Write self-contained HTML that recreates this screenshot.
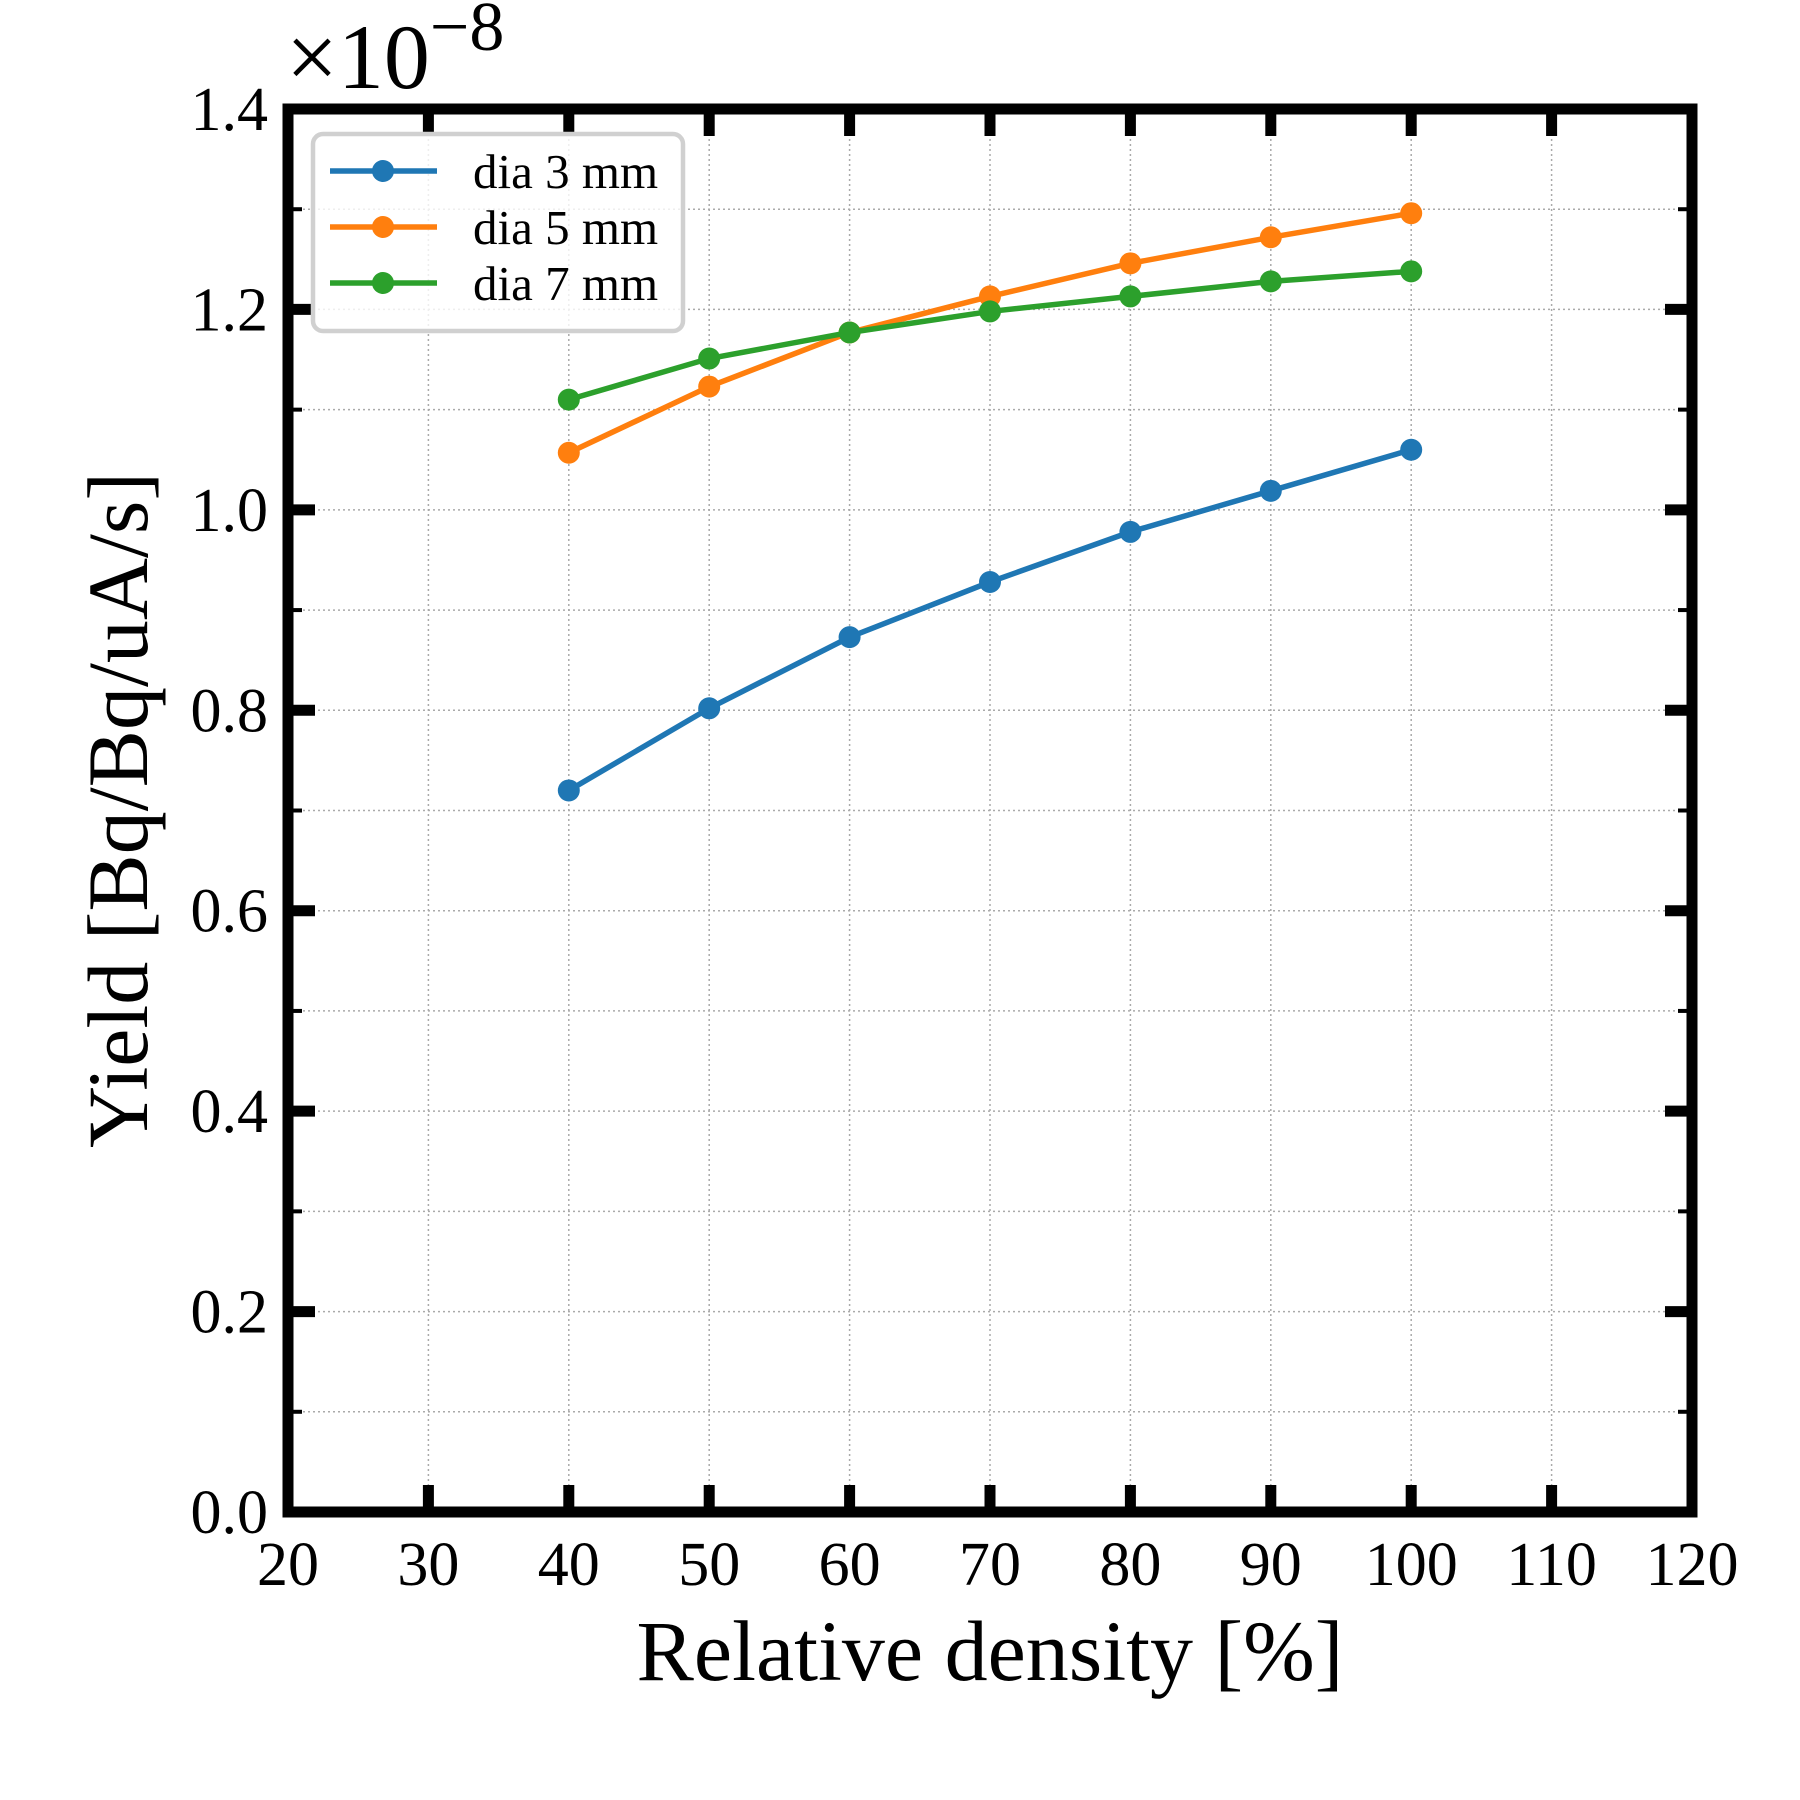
<!DOCTYPE html>
<html><head><meta charset="utf-8"><style>
html,body{margin:0;padding:0;background:#fff}
svg{display:block;font-family:"Liberation Serif",serif}
</style></head><body>
<svg id="chart" width="1800" height="1800" viewBox="0 0 1800 1800">
<g id="grid"></g>
<g id="series"></g>
<g id="axes"></g>
<g id="legend"></g>
<text x="990" y="1680" font-size="86" text-anchor="middle">Relative density [%]</text>
<text transform="translate(147,810) rotate(-90)" font-size="86" text-anchor="middle">Yield [Bq/Bq/uA/s]</text>
<text x="286" y="88" font-size="92">×10<tspan font-size="70" dy="-38">−8</tspan></text>
</svg>
<script>
const categories=[40,50,60,70,80,90,100];
const dia3=[0.720,0.802,0.873,0.928,0.978,1.019,1.060];
const dia5=[1.057,1.123,1.177,1.213,1.246,1.272,1.296];
const dia7=[1.110,1.151,1.177,1.198,1.213,1.228,1.238];
const seriesNames=["dia 3 mm","dia 5 mm","dia 7 mm"];
const xTicks=[20,30,40,50,60,70,80,90,100,110,120];
const yTicks=["0.0","0.2","0.4","0.6","0.8","1.0","1.2","1.4"];
const yMinor=[0.1,0.3,0.5,0.7,0.9,1.1,1.3];
const NS="http://www.w3.org/2000/svg";
const L=288,R=1692,B=1512,T=109;
const xs=v=>L+(v-20)/100*(R-L);
const ys=v=>B-v/1.4*(B-T);
function mk(tag,attrs,parent){const e=document.createElementNS(NS,tag);for(const k in attrs)e.setAttribute(k,attrs[k]);parent.appendChild(e);return e;}
const grid=document.getElementById('grid'),axes=document.getElementById('axes'),sg=document.getElementById('series'),lg=document.getElementById('legend');
xTicks.forEach(t=>{
  const x=xs(t);
  const g=mk('line',{x1:x,x2:x,y1:T,y2:B,stroke:'#aaa','stroke-width':1.5,'stroke-dasharray':'2,3'},grid);
  
  
  [[B,B-27],[T,T+27]].forEach(p=>{const tk=mk('line',{x1:x,x2:x,y1:p[0],y2:p[1],stroke:'#000','stroke-width':11},axes);
  
  });
  const lb=mk('text',{x:x,y:1585,'font-size':62,'text-anchor':'middle'},axes);lb.textContent=t;
  
  
});
yTicks.forEach(t=>{
  const y=ys(parseFloat(t));
  const g=mk('line',{x1:L,x2:R,y1:y,y2:y,stroke:'#aaa','stroke-width':1.5,'stroke-dasharray':'2,3'},grid);
  
  
  [[L,L+27],[R,R-27]].forEach(p=>{const tk=mk('line',{x1:p[0],x2:p[1],y1:y,y2:y,stroke:'#000','stroke-width':11},axes);
  
  });
  const lb=mk('text',{x:268,y:y+21,'font-size':62,'text-anchor':'end'},axes);lb.textContent=t;
  
  
});
yMinor.forEach(t=>{
  const y=ys(t);
  const g=mk('line',{x1:L,x2:R,y1:y,y2:y,stroke:'#aaa','stroke-width':1.5,'stroke-dasharray':'2,3'},grid);
  
  
  [[L,L+14],[R,R-14]].forEach(p=>{const tk=mk('line',{x1:p[0],x2:p[1],y1:y,y2:y,stroke:'#000','stroke-width':4},axes);
  
  });
});
const fr=mk('rect',{x:L,y:T,width:R-L,height:B-T,fill:'none',stroke:'#000','stroke-width':11},axes);


const colors=['#1f77b4','#ff7f0e','#2ca02c'];
[dia3,dia5,dia7].forEach((vals,i)=>{
  const pts=categories.map((c,j)=>xs(c)+','+ys(vals[j])).join(' ');
  const pl=mk('polyline',{points:pts,fill:'none',stroke:colors[i],'stroke-width':5.5},sg);
  
  
  categories.forEach((c,j)=>{const p=mk('circle',{cx:xs(c),cy:ys(vals[j]),r:11,fill:colors[i]},sg);
  
  });
});
const box=mk('rect',{x:313,y:134,width:370,height:197,rx:10,fill:'rgba(255,255,255,0.8)',stroke:'#d0d0d0','stroke-width':4.5},lg);


seriesNames.forEach((n,i)=>{
  const y=171+i*56;
  const ln=mk('line',{x1:330,x2:437,y1:y,y2:y,stroke:colors[i],'stroke-width':5.5},lg);
  
  
  const c=mk('circle',{cx:383,cy:y,r:11,fill:colors[i]},lg);
  
  
  const t=mk('text',{x:473,y:y+17,'font-size':49},lg);t.textContent=n;
  
  
});
</script>
</body></html>
